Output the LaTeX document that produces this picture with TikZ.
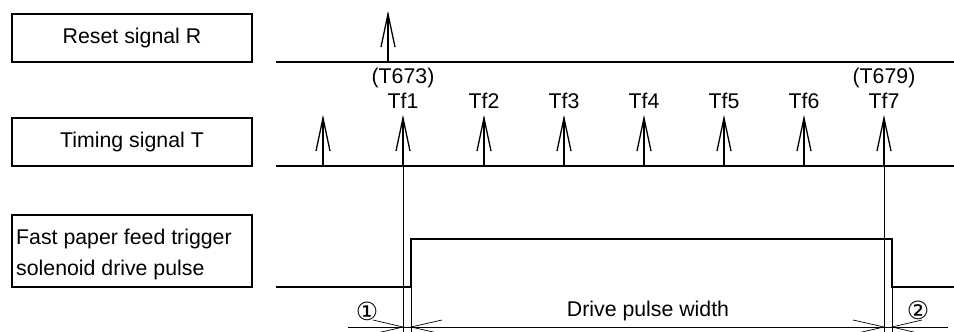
\documentclass[tikz,border=0pt]{standalone}
\usepackage{fontspec}
\setmainfont{Liberation Sans}
\newfontfamily\symfont{DejaVu Sans}
\usetikzlibrary{arrows.meta}
\begin{document}
\begin{tikzpicture}[x=1pt,y=-1pt,
  thickline/.style={line width=1.3pt},
  thinline/.style={line width=0.7pt},
  box/.style={draw, thickline, minimum width=240pt, minimum height=48pt, inner sep=0pt},
  pulsearrow/.style={thickline},
  barb/.style={thinline},
  lbl/.style={font=\fontsize{21.3}{23}\selectfont, inner sep=0pt},
  num/.style={font=\symfont\fontsize{25}{25}\selectfont, inner sep=0pt},
]
\useasboundingbox (0,0) rectangle (954,332);

% label boxes
\node[box] (rbox) at (132,38) {};
\node[lbl] (rtxt) at (rbox.center) {Reset signal R};
\node[box] (tbox) at (132,142) {};
\node[lbl] (ttxt) at (tbox.center) {Timing signal T};
\node[box, minimum height=72pt] (fbox) at (132,251) {};
\node[lbl, anchor=west, align=left, font=\fontsize{21.3}{31}\selectfont] (ftxt) at (16,254.5) {Fast paper feed trigger\\solenoid drive pulse};

% reset line
\coordinate (r0) at (276,62);
\coordinate (r1) at (954,62);
\draw[thickline] (r0) -- (r1);
\coordinate (rb) at (388,62);
\coordinate (rt) at (388,14);
\draw[pulsearrow] (rb) -- (rt);
\draw[pulsearrow] ([shift={(-7,33)}]rt) -- (rt) -- ([shift={(7,33)}]rt);

% timing line
\coordinate (t0) at (276,166);
\coordinate (t1) at (954,166);
\draw[thickline] (t0) -- (t1);
\foreach \i/\x in {0/323,1/403,2/484,3/564,4/644,5/724,6/804,7/884}{
  \coordinate (tb\i) at (\x,166);
  \coordinate (tt\i) at (\x,118);
  \draw[pulsearrow] (tb\i) -- (tt\i);
  \draw[pulsearrow] ([shift={(-7,33)}]tt\i) -- (tt\i) -- ([shift={(7,33)}]tt\i);
}
\foreach \i/\x in {1/403,2/484,3/564,4/644,5/724,6/804,7/884}{
  \node[lbl] (tf\i) at (\x,101) {Tf\i};
}
\node[lbl] (t673) at (403,78) {(T673)};
\node[lbl] (t679) at (884,78) {(T679)};

% pulse
\coordinate (p0) at (276,287);
\coordinate (p1) at (411,287);
\coordinate (p2) at (411,239);
\coordinate (p3) at (892,239);
\coordinate (p4) at (892,287);
\coordinate (p5) at (954,287);
\draw[thickline] (p0) -- (p1) -- (p2) -- (p3) -- (p4) -- (p5);

% extension lines
\coordinate (e1) at (403,345);
\coordinate (e2) at (411,345);
\coordinate (e3) at (884,345);
\coordinate (e4) at (892,345);
\draw[thinline] (tb1) -- (e1);
\draw[thinline] (p1) -- (e2);
\draw[thinline] (tb7) -- (e3);
\draw[thinline] (p4) -- (e4);

% dimension line
\coordinate (d0) at (348,327);
\coordinate (d1) at (403,327);
\coordinate (d2) at (411,327);
\coordinate (d3) at (884,327);
\coordinate (d4) at (892,327);
\coordinate (d5) at (948,327);
\draw[thinline] (d0) -- (d5);
\draw[barb] (373,320) -- (d1) -- (373,334);
\draw[barb] (442,320) -- (d2) -- (442,334);
\draw[barb] (853,320) -- (d3) -- (853,334);
\draw[barb] (922,320) -- (d4) -- (922,334);

\node[num] (n1) at (367,311) {①};
\node[num] (n2) at (918,310) {②};
\node[lbl] (dpw) at (648,311) {Drive pulse width};
\end{tikzpicture}
\end{document}
